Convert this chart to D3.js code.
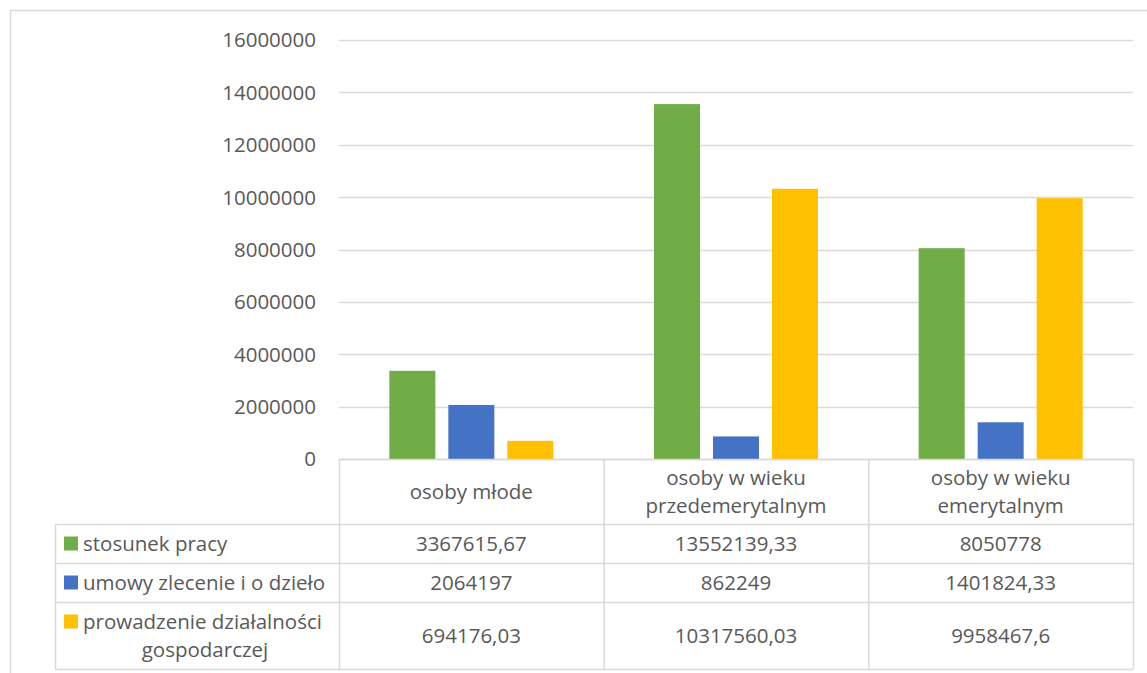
<!DOCTYPE html>
<html>
<head>
<meta charset="utf-8">
<script src="https://cdn.jsdelivr.net/npm/d3@7"></script>
<style>
  body { margin: 0; background: #fff; }
  svg text { font-family: "Open Sans", "Noto Sans", sans-serif; fill: #595959; }
</style>
</head>
<body>
<svg id="chart" width="1147" height="673"></svg>
<script>
// categories (header of data table), two lines each
var categories = ["osoby młode", "osoby w wieku przedemerytalnym", "osoby w wieku emerytalnym"];
var categoryLines = [["osoby młode"], ["osoby w wieku", "przedemerytalnym"], ["osoby w wieku", "emerytalnym"]];

var seriesNames = ["stosunek pracy", "umowy zlecenie i o dzieło", "prowadzenie działalności gospodarczej"];
var seriesLines = [["stosunek pracy"], ["umowy zlecenie i o dzieło"], ["prowadzenie działalności", "gospodarczej"]];
var seriesColors = ["#70AD47", "#4472C4", "#FFC000"];

var stosunekPracy = [3367615.67, 13552139.33, 8050778];
var umowyZlecenie = [2064197, 862249, 1401824.33];
var dzialalnosc   = [694176.03, 10317560.03, 9958467.6];
var seriesValues = [stosunekPracy, umowyZlecenie, dzialalnosc];

var yTicks = [0, 2000000, 4000000, 6000000, 8000000, 10000000, 12000000, 14000000, 16000000];

var svg = d3.select("#chart");
var gridColor = "#d9d9d9";
var fontSize = "20.5px";

// outer chart border
svg.append("rect")
  .attr("x", 10.5).attr("y", 10.5)
  .attr("width", 1150).attr("height", 700)
  .attr("fill", "none").attr("stroke", gridColor).attr("stroke-width", 1.5);

var plotLeft = 339, plotRight = 1133, plotTop = 40, plotBottom = 459;

var y = d3.scaleLinear().domain([0, 16000000]).range([plotBottom, plotTop]);
var x0 = d3.scaleBand().domain(categories).range([plotLeft, plotRight]);
var x1 = d3.scaleBand().domain(seriesNames)
  .range([(x0.bandwidth() - 164) / 2, (x0.bandwidth() + 164) / 2])
  .paddingInner(0.22);

// gridlines
svg.append("g").selectAll("line")
  .data(yTicks)
  .enter().append("line")
    .attr("x1", plotLeft).attr("x2", plotRight)
    .attr("y1", function(d){ return Math.round(y(d)) + 0.5; })
    .attr("y2", function(d){ return Math.round(y(d)) + 0.5; })
    .attr("stroke", gridColor).attr("stroke-width", 1.5);

// y labels
svg.append("g").selectAll("text")
  .data(yTicks)
  .enter().append("text")
    .attr("x", 316)
    .attr("y", function(d){ return y(d); })
    .attr("dy", "0.36em")
    .attr("text-anchor", "end")
    .style("font-size", fontSize)
    .text(d3.format("d"));

// bars
var barData = [];
seriesNames.forEach(function(s, si) {
  categories.forEach(function(c, ci) {
    barData.push({ series: s, cat: c, value: seriesValues[si][ci], color: seriesColors[si] });
  });
});

svg.append("g").selectAll("rect")
  .data(barData)
  .enter().append("rect")
    .attr("x", function(d){ return x0(d.cat) + x1(d.series); })
    .attr("width", x1.bandwidth())
    .attr("y", function(d){ return y(d.value); })
    .attr("height", function(d){ return plotBottom - y(d.value); })
    .attr("fill", function(d){ return d.color; });

// data table
var tableLeft = 55;
var rowEdges = [plotBottom, 524, 563, 602, 669];
var colEdges = [plotLeft].concat(categories.map(function(c){ return x0(c) + x0.bandwidth(); }));

var table = svg.append("g").attr("stroke", gridColor).attr("stroke-width", 1.5);
// horizontal lines
rowEdges.forEach(function(ry, i) {
  table.append("line")
    .attr("x1", i === 0 ? plotLeft : tableLeft).attr("x2", plotRight)
    .attr("y1", ry + 0.5).attr("y2", ry + 0.5);
});
// vertical lines
colEdges.forEach(function(cx) {
  table.append("line")
    .attr("x1", cx + 0.5).attr("x2", cx + 0.5)
    .attr("y1", plotBottom).attr("y2", rowEdges[4]);
});
table.append("line")
  .attr("x1", tableLeft + 0.5).attr("x2", tableLeft + 0.5)
  .attr("y1", rowEdges[1]).attr("y2", rowEdges[4]);

var lineH = 28;
function multiline(g, lines, cx, cy, anchor) {
  var t = g.append("text")
    .attr("text-anchor", anchor)
    .style("font-size", fontSize);
  var y0 = cy - (lines.length - 1) * lineH / 2;
  lines.forEach(function(l, i) {
    t.append("tspan").attr("x", cx).attr("y", y0 + i * lineH).attr("dy", "0.36em").text(l);
  });
  return t;
}

var labels = svg.append("g");
// header row
categories.forEach(function(c, ci) {
  multiline(labels, categoryLines[ci], x0(c) + x0.bandwidth() / 2, (rowEdges[0] + rowEdges[1]) / 2, "middle");
});

// series rows
seriesNames.forEach(function(s, si) {
  var cy = (rowEdges[si + 1] + rowEdges[si + 2]) / 2;
  var top = seriesLines[si].length > 1 ? cy - lineH / 2 : cy;
  labels.append("rect")
    .attr("x", 64).attr("y", top - 7)
    .attr("width", 14).attr("height", 14)
    .attr("fill", seriesColors[si]);
  if (seriesLines[si].length > 1) {
    multiline(labels, [seriesLines[si][0]], 83, top, "start");
    multiline(labels, [seriesLines[si][1]], 205, top + lineH, "middle");
  } else {
    multiline(labels, seriesLines[si], 83, cy, "start");
  }
  categories.forEach(function(c, ci) {
    multiline(labels, [String(seriesValues[si][ci]).replace(".", ",")],
      x0(c) + x0.bandwidth() / 2, cy, "middle");
  });
});
</script>
</body>
</html>
